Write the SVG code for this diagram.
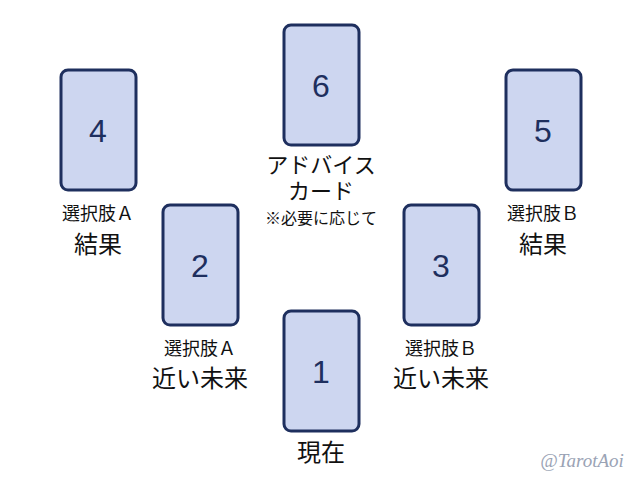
<svg xmlns="http://www.w3.org/2000/svg" width="640" height="480" viewBox="0 0 640 480">
<style>
.c{fill:#cdd6f0;stroke:#1e2f5e;stroke-width:3}
.n{font-family:"Liberation Sans",Arial,sans-serif;font-size:32px;fill:#1e2f5e;text-anchor:middle}
.l{font-family:"Noto Sans CJK JP",sans-serif;fill:#111;text-anchor:middle}
</style>
<rect width="640" height="480" fill="#fff"/>
<g id="connectors"/>
<g id="card6"><rect class="c" x="284" y="25" width="75" height="120" rx="7"/><text class="n" x="321" y="97">6</text>
<text class="l" x="321" y="173" font-size="22">アドバイス</text><text class="l" x="321" y="199" font-size="22">カード</text><text class="l" x="321" y="224" font-size="16">※必要に応じて</text></g>
<g id="card4"><rect class="c" x="61" y="70" width="75" height="120" rx="7"/><text class="n" x="98" y="142">4</text>
<text class="l" x="98" y="220" font-size="18">選択肢Ａ</text><text class="l" x="98" y="253" font-size="24">結果</text></g>
<g id="card5"><rect class="c" x="506" y="70" width="75" height="120" rx="7"/><text class="n" x="543" y="142">5</text>
<text class="l" x="543" y="220" font-size="18">選択肢Ｂ</text><text class="l" x="543" y="253" font-size="24">結果</text></g>
<g id="card2"><rect class="c" x="163" y="205" width="75" height="120" rx="7"/><text class="n" x="200" y="277">2</text>
<text class="l" x="200" y="355" font-size="18">選択肢Ａ</text><text class="l" x="200" y="387" font-size="24">近い未来</text></g>
<g id="card3"><rect class="c" x="404" y="205" width="75" height="120" rx="7"/><text class="n" x="441" y="277">3</text>
<text class="l" x="441" y="355" font-size="18">選択肢Ｂ</text><text class="l" x="441" y="387" font-size="24">近い未来</text></g>
<g id="card1"><rect class="c" x="284" y="311" width="75" height="120" rx="7"/><text class="n" x="321" y="383">1</text>
<text class="l" x="321" y="461" font-size="24">現在</text></g>
<text x="582" y="467" font-family="Liberation Serif,serif" font-style="italic" font-size="19" fill="#9aa3b5" text-anchor="middle">@TarotAoi</text>
</svg>
